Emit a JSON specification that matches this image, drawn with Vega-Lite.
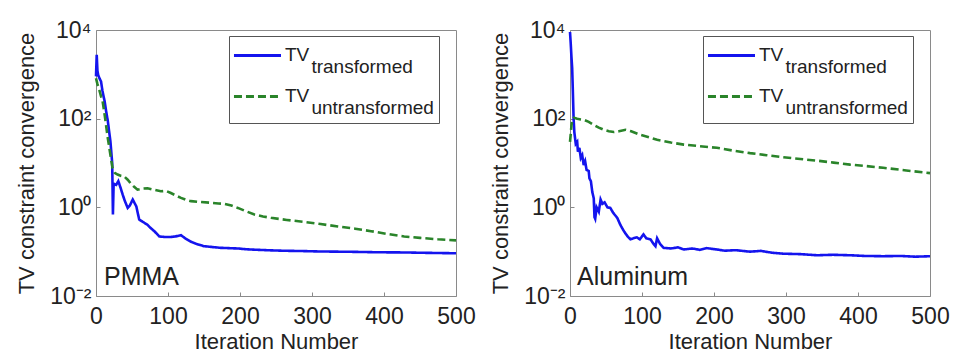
{
  "$schema": "https://vega.github.io/schema/vega-lite/v6.json",
  "background": "white",
  "padding": {"left": 15, "top": 18, "right": 5, "bottom": 5},
  "bounds": "flush",
  "spacing": 114,
  "datasets": {
    "curves": [
      {"panel":"PMMA","series":"transformed","iter":0,"value":900},
      {"panel":"PMMA","series":"transformed","iter":1,"value":2750},
      {"panel":"PMMA","series":"transformed","iter":2,"value":1200},
      {"panel":"PMMA","series":"transformed","iter":3,"value":970},
      {"panel":"PMMA","series":"transformed","iter":5,"value":800},
      {"panel":"PMMA","series":"transformed","iter":7,"value":690},
      {"panel":"PMMA","series":"transformed","iter":9,"value":420},
      {"panel":"PMMA","series":"transformed","iter":12,"value":245},
      {"panel":"PMMA","series":"transformed","iter":14,"value":150},
      {"panel":"PMMA","series":"transformed","iter":16.5,"value":87},
      {"panel":"PMMA","series":"transformed","iter":18,"value":55},
      {"panel":"PMMA","series":"transformed","iter":20,"value":31},
      {"panel":"PMMA","series":"transformed","iter":22.5,"value":10},
      {"panel":"PMMA","series":"transformed","iter":23.5,"value":0.69},
      {"panel":"PMMA","series":"transformed","iter":24.5,"value":3.4},
      {"panel":"PMMA","series":"transformed","iter":28,"value":3.2},
      {"panel":"PMMA","series":"transformed","iter":31,"value":3.9},
      {"panel":"PMMA","series":"transformed","iter":34,"value":2.8},
      {"panel":"PMMA","series":"transformed","iter":37,"value":1.95},
      {"panel":"PMMA","series":"transformed","iter":40,"value":1.4},
      {"panel":"PMMA","series":"transformed","iter":44,"value":0.97},
      {"panel":"PMMA","series":"transformed","iter":47,"value":1.1},
      {"panel":"PMMA","series":"transformed","iter":51,"value":1.5},
      {"panel":"PMMA","series":"transformed","iter":53,"value":1.3},
      {"panel":"PMMA","series":"transformed","iter":56,"value":1.05},
      {"panel":"PMMA","series":"transformed","iter":60,"value":0.53},
      {"panel":"PMMA","series":"transformed","iter":65,"value":0.47},
      {"panel":"PMMA","series":"transformed","iter":71,"value":0.41},
      {"panel":"PMMA","series":"transformed","iter":76,"value":0.34},
      {"panel":"PMMA","series":"transformed","iter":81,"value":0.29},
      {"panel":"PMMA","series":"transformed","iter":88,"value":0.22},
      {"panel":"PMMA","series":"transformed","iter":95,"value":0.215},
      {"panel":"PMMA","series":"transformed","iter":104,"value":0.215},
      {"panel":"PMMA","series":"transformed","iter":110,"value":0.22},
      {"panel":"PMMA","series":"transformed","iter":118,"value":0.235},
      {"panel":"PMMA","series":"transformed","iter":124,"value":0.2},
      {"panel":"PMMA","series":"transformed","iter":132,"value":0.167},
      {"panel":"PMMA","series":"transformed","iter":140,"value":0.148},
      {"panel":"PMMA","series":"transformed","iter":150,"value":0.133},
      {"panel":"PMMA","series":"transformed","iter":160,"value":0.128},
      {"panel":"PMMA","series":"transformed","iter":173,"value":0.122},
      {"panel":"PMMA","series":"transformed","iter":185,"value":0.12},
      {"panel":"PMMA","series":"transformed","iter":197,"value":0.118},
      {"panel":"PMMA","series":"transformed","iter":210,"value":0.113},
      {"panel":"PMMA","series":"transformed","iter":225,"value":0.11},
      {"panel":"PMMA","series":"transformed","iter":243,"value":0.107},
      {"panel":"PMMA","series":"transformed","iter":260,"value":0.105},
      {"panel":"PMMA","series":"transformed","iter":289,"value":0.103},
      {"panel":"PMMA","series":"transformed","iter":310,"value":0.101},
      {"panel":"PMMA","series":"transformed","iter":336,"value":0.1},
      {"panel":"PMMA","series":"transformed","iter":360,"value":0.099},
      {"panel":"PMMA","series":"transformed","iter":390,"value":0.097},
      {"panel":"PMMA","series":"transformed","iter":428,"value":0.096},
      {"panel":"PMMA","series":"transformed","iter":460,"value":0.094},
      {"panel":"PMMA","series":"transformed","iter":500,"value":0.092},

      {"panel":"PMMA","series":"untransformed","iter":0,"value":815},
      {"panel":"PMMA","series":"untransformed","iter":2,"value":600},
      {"panel":"PMMA","series":"untransformed","iter":4.6,"value":445},
      {"panel":"PMMA","series":"untransformed","iter":7,"value":320},
      {"panel":"PMMA","series":"untransformed","iter":9.2,"value":245},
      {"panel":"PMMA","series":"untransformed","iter":11.5,"value":140},
      {"panel":"PMMA","series":"untransformed","iter":13.9,"value":73},
      {"panel":"PMMA","series":"untransformed","iter":16,"value":40},
      {"panel":"PMMA","series":"untransformed","iter":18.5,"value":22},
      {"panel":"PMMA","series":"untransformed","iter":21,"value":12},
      {"panel":"PMMA","series":"untransformed","iter":23,"value":7.7},
      {"panel":"PMMA","series":"untransformed","iter":26,"value":6},
      {"panel":"PMMA","series":"untransformed","iter":30,"value":5.5},
      {"panel":"PMMA","series":"untransformed","iter":35,"value":5.1},
      {"panel":"PMMA","series":"untransformed","iter":39,"value":5},
      {"panel":"PMMA","series":"untransformed","iter":44,"value":4.2},
      {"panel":"PMMA","series":"untransformed","iter":48,"value":3.5},
      {"panel":"PMMA","series":"untransformed","iter":53,"value":2.9},
      {"panel":"PMMA","series":"untransformed","iter":57.6,"value":2.5},
      {"panel":"PMMA","series":"untransformed","iter":64,"value":2.65},
      {"panel":"PMMA","series":"untransformed","iter":71.6,"value":2.7},
      {"panel":"PMMA","series":"untransformed","iter":80,"value":2.5},
      {"panel":"PMMA","series":"untransformed","iter":90,"value":2.3},
      {"panel":"PMMA","series":"untransformed","iter":97,"value":2.35},
      {"panel":"PMMA","series":"untransformed","iter":104,"value":2.1},
      {"panel":"PMMA","series":"untransformed","iter":111,"value":1.85},
      {"panel":"PMMA","series":"untransformed","iter":118,"value":1.63},
      {"panel":"PMMA","series":"untransformed","iter":125,"value":1.48},
      {"panel":"PMMA","series":"untransformed","iter":132,"value":1.38},
      {"panel":"PMMA","series":"untransformed","iter":145,"value":1.32},
      {"panel":"PMMA","series":"untransformed","iter":160,"value":1.27},
      {"panel":"PMMA","series":"untransformed","iter":170,"value":1.22},
      {"panel":"PMMA","series":"untransformed","iter":178,"value":1.2},
      {"panel":"PMMA","series":"untransformed","iter":188,"value":1.1},
      {"panel":"PMMA","series":"untransformed","iter":197,"value":0.97},
      {"panel":"PMMA","series":"untransformed","iter":208,"value":0.82},
      {"panel":"PMMA","series":"untransformed","iter":220,"value":0.69},
      {"panel":"PMMA","series":"untransformed","iter":232,"value":0.62},
      {"panel":"PMMA","series":"untransformed","iter":243,"value":0.58},
      {"panel":"PMMA","series":"untransformed","iter":265,"value":0.52},
      {"panel":"PMMA","series":"untransformed","iter":289,"value":0.47},
      {"panel":"PMMA","series":"untransformed","iter":312,"value":0.42},
      {"panel":"PMMA","series":"untransformed","iter":336,"value":0.37},
      {"panel":"PMMA","series":"untransformed","iter":360,"value":0.33},
      {"panel":"PMMA","series":"untransformed","iter":382,"value":0.29},
      {"panel":"PMMA","series":"untransformed","iter":405,"value":0.25},
      {"panel":"PMMA","series":"untransformed","iter":428,"value":0.22},
      {"panel":"PMMA","series":"untransformed","iter":450,"value":0.205},
      {"panel":"PMMA","series":"untransformed","iter":475,"value":0.19},
      {"panel":"PMMA","series":"untransformed","iter":500,"value":0.18},

      {"panel":"Aluminum","series":"transformed","iter":0,"value":9000},
      {"panel":"Aluminum","series":"transformed","iter":1,"value":5000},
      {"panel":"Aluminum","series":"transformed","iter":2,"value":2500},
      {"panel":"Aluminum","series":"transformed","iter":3,"value":1400},
      {"panel":"Aluminum","series":"transformed","iter":4,"value":400},
      {"panel":"Aluminum","series":"transformed","iter":5,"value":100},
      {"panel":"Aluminum","series":"transformed","iter":6,"value":50},
      {"panel":"Aluminum","series":"transformed","iter":8,"value":27},
      {"panel":"Aluminum","series":"transformed","iter":10,"value":30},
      {"panel":"Aluminum","series":"transformed","iter":11,"value":18},
      {"panel":"Aluminum","series":"transformed","iter":13,"value":22},
      {"panel":"Aluminum","series":"transformed","iter":15,"value":13},
      {"panel":"Aluminum","series":"transformed","iter":17,"value":15},
      {"panel":"Aluminum","series":"transformed","iter":19,"value":9},
      {"panel":"Aluminum","series":"transformed","iter":21,"value":11},
      {"panel":"Aluminum","series":"transformed","iter":23,"value":7},
      {"panel":"Aluminum","series":"transformed","iter":26,"value":6.6},
      {"panel":"Aluminum","series":"transformed","iter":27,"value":4.5},
      {"panel":"Aluminum","series":"transformed","iter":29,"value":3.9},
      {"panel":"Aluminum","series":"transformed","iter":31,"value":2.2},
      {"panel":"Aluminum","series":"transformed","iter":33,"value":1.6},
      {"panel":"Aluminum","series":"transformed","iter":34,"value":0.6},
      {"panel":"Aluminum","series":"transformed","iter":35,"value":0.55},
      {"panel":"Aluminum","series":"transformed","iter":37,"value":1.0},
      {"panel":"Aluminum","series":"transformed","iter":40,"value":0.8},
      {"panel":"Aluminum","series":"transformed","iter":42.5,"value":1.5},
      {"panel":"Aluminum","series":"transformed","iter":45,"value":1.2},
      {"panel":"Aluminum","series":"transformed","iter":48,"value":1.3},
      {"panel":"Aluminum","series":"transformed","iter":52,"value":1.0},
      {"panel":"Aluminum","series":"transformed","iter":56,"value":0.97},
      {"panel":"Aluminum","series":"transformed","iter":60,"value":0.75},
      {"panel":"Aluminum","series":"transformed","iter":65.6,"value":0.58},
      {"panel":"Aluminum","series":"transformed","iter":70,"value":0.4},
      {"panel":"Aluminum","series":"transformed","iter":74.9,"value":0.29},
      {"panel":"Aluminum","series":"transformed","iter":80,"value":0.22},
      {"panel":"Aluminum","series":"transformed","iter":84,"value":0.19},
      {"panel":"Aluminum","series":"transformed","iter":88,"value":0.2},
      {"panel":"Aluminum","series":"transformed","iter":93,"value":0.21},
      {"panel":"Aluminum","series":"transformed","iter":97,"value":0.19},
      {"panel":"Aluminum","series":"transformed","iter":102,"value":0.245},
      {"panel":"Aluminum","series":"transformed","iter":106,"value":0.2},
      {"panel":"Aluminum","series":"transformed","iter":111.8,"value":0.19},
      {"panel":"Aluminum","series":"transformed","iter":116,"value":0.15},
      {"panel":"Aluminum","series":"transformed","iter":118.7,"value":0.133},
      {"panel":"Aluminum","series":"transformed","iter":121,"value":0.2},
      {"panel":"Aluminum","series":"transformed","iter":125,"value":0.15},
      {"panel":"Aluminum","series":"transformed","iter":130,"value":0.122},
      {"panel":"Aluminum","series":"transformed","iter":140,"value":0.118},
      {"panel":"Aluminum","series":"transformed","iter":150,"value":0.125},
      {"panel":"Aluminum","series":"transformed","iter":158,"value":0.112},
      {"panel":"Aluminum","series":"transformed","iter":170,"value":0.118},
      {"panel":"Aluminum","series":"transformed","iter":180,"value":0.11},
      {"panel":"Aluminum","series":"transformed","iter":190,"value":0.12},
      {"panel":"Aluminum","series":"transformed","iter":204,"value":0.112},
      {"panel":"Aluminum","series":"transformed","iter":215,"value":0.105},
      {"panel":"Aluminum","series":"transformed","iter":230,"value":0.108},
      {"panel":"Aluminum","series":"transformed","iter":250,"value":0.1},
      {"panel":"Aluminum","series":"transformed","iter":265,"value":0.104},
      {"panel":"Aluminum","series":"transformed","iter":280,"value":0.095},
      {"panel":"Aluminum","series":"transformed","iter":296,"value":0.09},
      {"panel":"Aluminum","series":"transformed","iter":320,"value":0.088},
      {"panel":"Aluminum","series":"transformed","iter":343,"value":0.083},
      {"panel":"Aluminum","series":"transformed","iter":365,"value":0.085},
      {"panel":"Aluminum","series":"transformed","iter":389,"value":0.083},
      {"panel":"Aluminum","series":"transformed","iter":410,"value":0.08},
      {"panel":"Aluminum","series":"transformed","iter":435,"value":0.079},
      {"panel":"Aluminum","series":"transformed","iter":460,"value":0.08},
      {"panel":"Aluminum","series":"transformed","iter":480,"value":0.077},
      {"panel":"Aluminum","series":"transformed","iter":500,"value":0.079},

      {"panel":"Aluminum","series":"untransformed","iter":0,"value":30},
      {"panel":"Aluminum","series":"untransformed","iter":1,"value":45},
      {"panel":"Aluminum","series":"untransformed","iter":2,"value":70},
      {"panel":"Aluminum","series":"untransformed","iter":3,"value":90},
      {"panel":"Aluminum","series":"untransformed","iter":5.5,"value":105},
      {"panel":"Aluminum","series":"untransformed","iter":10,"value":100},
      {"panel":"Aluminum","series":"untransformed","iter":15,"value":96},
      {"panel":"Aluminum","series":"untransformed","iter":19.4,"value":94},
      {"panel":"Aluminum","series":"untransformed","iter":26,"value":85},
      {"panel":"Aluminum","series":"untransformed","iter":33.3,"value":72},
      {"panel":"Aluminum","series":"untransformed","iter":40,"value":63},
      {"panel":"Aluminum","series":"untransformed","iter":47,"value":56},
      {"panel":"Aluminum","series":"untransformed","iter":54,"value":52},
      {"panel":"Aluminum","series":"untransformed","iter":61,"value":50},
      {"panel":"Aluminum","series":"untransformed","iter":68,"value":52},
      {"panel":"Aluminum","series":"untransformed","iter":77.2,"value":56},
      {"panel":"Aluminum","series":"untransformed","iter":85,"value":52},
      {"panel":"Aluminum","series":"untransformed","iter":98,"value":43},
      {"panel":"Aluminum","series":"untransformed","iter":110,"value":38},
      {"panel":"Aluminum","series":"untransformed","iter":121,"value":33.5},
      {"panel":"Aluminum","series":"untransformed","iter":140,"value":29},
      {"panel":"Aluminum","series":"untransformed","iter":158,"value":26},
      {"panel":"Aluminum","series":"untransformed","iter":180,"value":24},
      {"panel":"Aluminum","series":"untransformed","iter":204,"value":22},
      {"panel":"Aluminum","series":"untransformed","iter":227,"value":19},
      {"panel":"Aluminum","series":"untransformed","iter":250,"value":16.7},
      {"panel":"Aluminum","series":"untransformed","iter":273,"value":15},
      {"panel":"Aluminum","series":"untransformed","iter":296,"value":13.5},
      {"panel":"Aluminum","series":"untransformed","iter":320,"value":12.3},
      {"panel":"Aluminum","series":"untransformed","iter":343,"value":11.3},
      {"panel":"Aluminum","series":"untransformed","iter":366,"value":10.2},
      {"panel":"Aluminum","series":"untransformed","iter":389,"value":9.2},
      {"panel":"Aluminum","series":"untransformed","iter":412,"value":8.5},
      {"panel":"Aluminum","series":"untransformed","iter":435,"value":7.8},
      {"panel":"Aluminum","series":"untransformed","iter":467,"value":6.8},
      {"panel":"Aluminum","series":"untransformed","iter":500,"value":5.9}
    ]
  },
  "config": {
    "font": "Liberation Sans",
    "view": {"stroke": "#8a8a8a", "strokeWidth": 1},
    "axis": {
      "grid": false,
      "domain": false,
      "labelFont": "Liberation Sans",
      "labelFontSize": 23,
      "labelColor": "#222222",
      "labelFlush": false,
      "labelOverlap": false,
      "titleFont": "Liberation Sans",
      "titleFontSize": 22,
      "titleFontWeight": "normal",
      "titleColor": "#222222",
      "tickColor": "#8a8a8a",
      "tickSize": -4
    },
    "axisX": {"labelPadding": 13, "titlePadding": 3},
    "axisY": {"labelPadding": 9, "titlePadding": 11},
    "legend": {
      "strokeColor": "#555555",
      "fillColor": "white",
      "padding": 5,
      "labelFont": "Liberation Sans",
      "labelFontSize": 19,
      "labelColor": "#222222",
      "labelLimit": 400,
      "labelBaseline": "alphabetic",
      "symbolStrokeWidth": 3,
      "symbolSize": 676,
      "symbolOffset": 9,
      "rowPadding": 5,
      "labelOffset": 13
    }
  },
  "resolve": {"legend": {"color": "independent", "strokeDash": "independent"}},
  "hconcat": [
    {
      "width": 360,
      "height": 266,
      "layer": [
        {
          "data": {"name": "curves"},
          "transform": [{"filter": "datum.panel === 'PMMA'"}],
          "mark": {"type": "line", "strokeWidth": 2.6},
          "encoding": {
            "x": {"field": "iter", "type": "quantitative", "scale": {"domain": [0, 500], "nice": false}, "axis": {"values": [0,100,200,300,400,500], "title": "Iteration Number"}},
            "y": {"field": "value", "type": "quantitative", "scale": {"type": "log", "domain": [0.01, 10000], "nice": false}, "axis": {"values": [0.01, 1, 100, 10000], "title": "TV constraint convergence", "labelExpr": "datum.value >= 5000 ? '10⁴' : datum.value >= 50 ? '10²' : datum.value >= 0.5 ? '10⁰' : '10⁻²'"}},
            "color": {"field": "series", "type": "nominal", "scale": {"domain": ["transformed", "untransformed"], "range": ["#1414ee", "#2a842a"]}, "legend": {"title": null, "orient": "none", "legendX": 133, "legendY": 6, "symbolType": "M-1.81,0H1.81", "labelExpr": "['TV', '\u200b\u00a0\u00a0\u00a0\u00a0\u00a0' + datum.label]", "encode": {"labels": {"update": {"dy": {"value": 5}, "lineHeight": {"value": 12}}}}}},
            "strokeDash": {"field": "series", "type": "nominal", "scale": {"domain": ["transformed", "untransformed"], "range": [[1, 0], [8, 4]]}, "legend": {"title": null, "orient": "none", "legendX": 133, "legendY": 6, "symbolType": "M-1.81,0H1.81", "labelExpr": "['TV', '\u200b\u00a0\u00a0\u00a0\u00a0\u00a0' + datum.label]", "encode": {"labels": {"update": {"dy": {"value": 5}, "lineHeight": {"value": 12}}}}}}
          }
        },
        {
          "data": {"values": [{"label": "PMMA"}]},
          "mark": {"type": "text", "align": "left", "baseline": "middle", "dx": 8, "fontSize": 25, "font": "Liberation Sans", "color": "#222222"},
          "encoding": {
            "x": {"datum": 0},
            "y": {"datum": 0.027},
            "text": {"field": "label"}
          }
        }
      ]
    },
    {
      "width": 360,
      "height": 266,
      "layer": [
        {
          "data": {"name": "curves"},
          "transform": [{"filter": "datum.panel === 'Aluminum'"}],
          "mark": {"type": "line", "strokeWidth": 2.6},
          "encoding": {
            "x": {"field": "iter", "type": "quantitative", "scale": {"domain": [0, 500], "nice": false}, "axis": {"values": [0,100,200,300,400,500], "title": "Iteration Number"}},
            "y": {"field": "value", "type": "quantitative", "scale": {"type": "log", "domain": [0.01, 10000], "nice": false}, "axis": {"values": [0.01, 1, 100, 10000], "title": "TV constraint convergence", "labelExpr": "datum.value >= 5000 ? '10⁴' : datum.value >= 50 ? '10²' : datum.value >= 0.5 ? '10⁰' : '10⁻²'"}},
            "color": {"field": "series", "type": "nominal", "scale": {"domain": ["transformed", "untransformed"], "range": ["#1414ee", "#2a842a"]}, "legend": {"title": null, "orient": "none", "legendX": 133, "legendY": 6, "symbolType": "M-1.81,0H1.81", "labelExpr": "['TV', '\u200b\u00a0\u00a0\u00a0\u00a0\u00a0' + datum.label]", "encode": {"labels": {"update": {"dy": {"value": 5}, "lineHeight": {"value": 12}}}}}},
            "strokeDash": {"field": "series", "type": "nominal", "scale": {"domain": ["transformed", "untransformed"], "range": [[1, 0], [8, 4]]}, "legend": {"title": null, "orient": "none", "legendX": 133, "legendY": 6, "symbolType": "M-1.81,0H1.81", "labelExpr": "['TV', '\u200b\u00a0\u00a0\u00a0\u00a0\u00a0' + datum.label]", "encode": {"labels": {"update": {"dy": {"value": 5}, "lineHeight": {"value": 12}}}}}}
          }
        },
        {
          "data": {"values": [{"label": "Aluminum"}]},
          "mark": {"type": "text", "align": "left", "baseline": "middle", "dx": 7, "fontSize": 25, "font": "Liberation Sans", "color": "#222222"},
          "encoding": {
            "x": {"datum": 0},
            "y": {"datum": 0.027},
            "text": {"field": "label"}
          }
        }
      ]
    }
  ]
}
